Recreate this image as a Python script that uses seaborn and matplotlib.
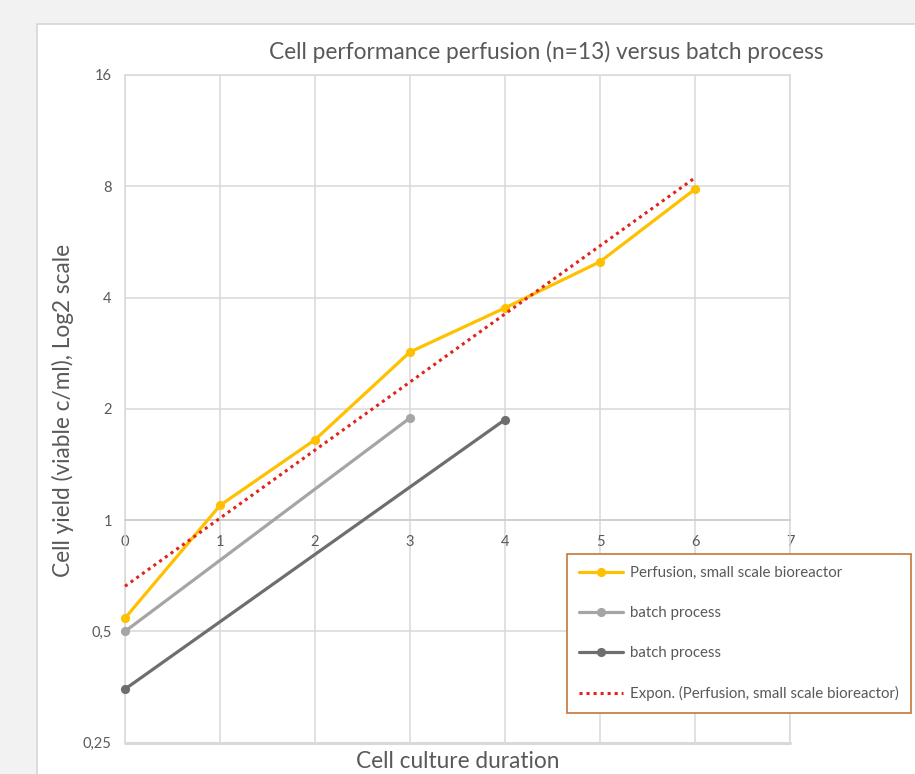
import numpy as np
import pandas as pd
import matplotlib
matplotlib.use("Agg")
import matplotlib.pyplot as plt
import matplotlib.patches as mpatches
from matplotlib.ticker import FixedLocator, FixedFormatter
import seaborn as sns

# ---------------- data ----------------
title = "Cell performance perfusion (n=13) versus batch process"
x_label = "Cell culture duration"
y_label = "Cell yield (viable c/ml), Log2 scale"

perf_days = [0, 1, 2, 3, 4, 5, 6]
perf_yield = [0.543, 1.096, 1.65, 2.85, 3.75, 5.0, 7.86]
perf_name = "Perfusion, small scale bioreactor"

batch1_days = [0, 3]
batch1_yield = [0.5, 1.89]
batch1_name = "batch process"

batch2_days = [0, 4]
batch2_yield = [0.349, 1.87]
batch2_name = "batch process"

trend_name = "Expon. (Perfusion, small scale bioreactor)"

x_ticks = [0, 1, 2, 3, 4, 5, 6, 7]
y_ticks = [0.25, 0.5, 1, 2, 4, 8, 16]
y_tick_labels = ["0,25", "0,5", "1", "2", "4", "8", "16"]

# exponential trendline (least-squares fit on log scale, like Excel's Expon.)
slope, intercept = np.polyfit(perf_days, np.log(perf_yield), 1)
trend_days = np.linspace(min(perf_days), max(perf_days), 50)
trend_yield = np.exp(intercept + slope * trend_days)

# ---------------- style ----------------
sns.set_theme(style="white")
plt.rcParams["font.family"] = ["Lato", "DejaVu Sans"]
TXT = "#595959"
GRID = "#d9d9d9"

W, H = 915, 774
fig = plt.figure(figsize=(W / 100, H / 100), dpi=100, facecolor="#f2f2f2")

# white chart panel
panel = mpatches.Rectangle((37 / W, -0.1), 1.2, 1 - 24 / H + 0.1,
                           transform=fig.transFigure, facecolor="white",
                           edgecolor="#d6d6d6", lw=1.2, zorder=-10)
fig.patches.append(panel)

ax = fig.add_axes([125 / W, (H - 742.7) / H, 665 / W, 667.7 / H])
ax.set_facecolor("white")

df_p = pd.DataFrame({"day": perf_days, "yield": perf_yield})
df_b1 = pd.DataFrame({"day": batch1_days, "yield": batch1_yield})
df_b2 = pd.DataFrame({"day": batch2_days, "yield": batch2_yield})
df_t = pd.DataFrame({"day": trend_days, "yield": trend_yield})

sns.lineplot(data=df_p, x="day", y="yield", ax=ax, color="#ffc000", lw=2.3,
             marker="o", markersize=6.6, markeredgewidth=0, label=perf_name,
             estimator=None, zorder=4)
sns.lineplot(data=df_b1, x="day", y="yield", ax=ax, color="#a5a5a5", lw=2.3,
             marker="o", markersize=6.6, markeredgewidth=0, label=batch1_name,
             estimator=None, zorder=3)
sns.lineplot(data=df_b2, x="day", y="yield", ax=ax, color="#6e6e6e", lw=2.3,
             marker="o", markersize=6.6, markeredgewidth=0, label=batch2_name,
             estimator=None, zorder=3)
sns.lineplot(data=df_t, x="day", y="yield", ax=ax, color="#e2231a", lw=2.2,
             linestyle=(0, (1, 1.3)), label=trend_name, estimator=None,
             zorder=5)
for ln in ax.lines:
    ln.set_clip_on(False)

ax.set_yscale("log", base=2)
ax.set_ylim(0.25, 16)
ax.set_xlim(0, 7)
ax.yaxis.set_major_locator(FixedLocator(y_ticks))
ax.yaxis.set_major_formatter(FixedFormatter(y_tick_labels))
ax.yaxis.set_minor_locator(FixedLocator([]))
ax.set_xticks(x_ticks)
ax.set_xticklabels([str(v) for v in x_ticks])

ax.grid(True, which="major", color=GRID, lw=1.1)
for s in ["left", "right", "top"]:
    ax.spines[s].set_color(GRID)
    ax.spines[s].set_linewidth(1.1)
ax.spines["bottom"].set_position(("data", 1))
ax.spines["bottom"].set_color("#cfcfcf")
ax.spines["bottom"].set_linewidth(1.3)
ax.axhline(0.25, color=GRID, lw=2.2, zorder=1, clip_on=False)

ax.tick_params(axis="x", length=0, pad=11, labelsize=10.5, labelcolor=TXT)
ax.tick_params(axis="y", length=0, pad=9.5, labelsize=10.5, labelcolor=TXT)
ax.set_xlabel("")
ax.set_ylabel("")

fig.text(546 / W, 1 - 52 / H, title, ha="center", va="center",
         fontsize=16.3, color=TXT)
fig.text(63 / W, 1 - 410 / H, y_label, ha="center", va="center",
         rotation=90, fontsize=16.3, color=TXT)
fig.text(458 / W, 1 - 761 / H, x_label, ha="center", va="center",
         fontsize=16.3, color=TXT)

ax.get_legend().remove()
handles, labels = ax.get_legend_handles_labels()
leg = fig.legend(handles, labels, loc="upper left",
                 bbox_to_anchor=(567 / W, 1 - 554 / H),
                 bbox_transform=fig.transFigure,
                 frameon=True, fancybox=False, framealpha=1,
                 edgecolor="#c5753a", facecolor="white",
                 fontsize=10.8, labelcolor=TXT, labelspacing=1.74,
                 handlelength=2.93, handletextpad=0.47, borderpad=0.8,
                 borderaxespad=0)
leg.get_frame().set_linewidth(1.2)

fig.savefig("out.png", dpi=100, facecolor=fig.get_facecolor())
